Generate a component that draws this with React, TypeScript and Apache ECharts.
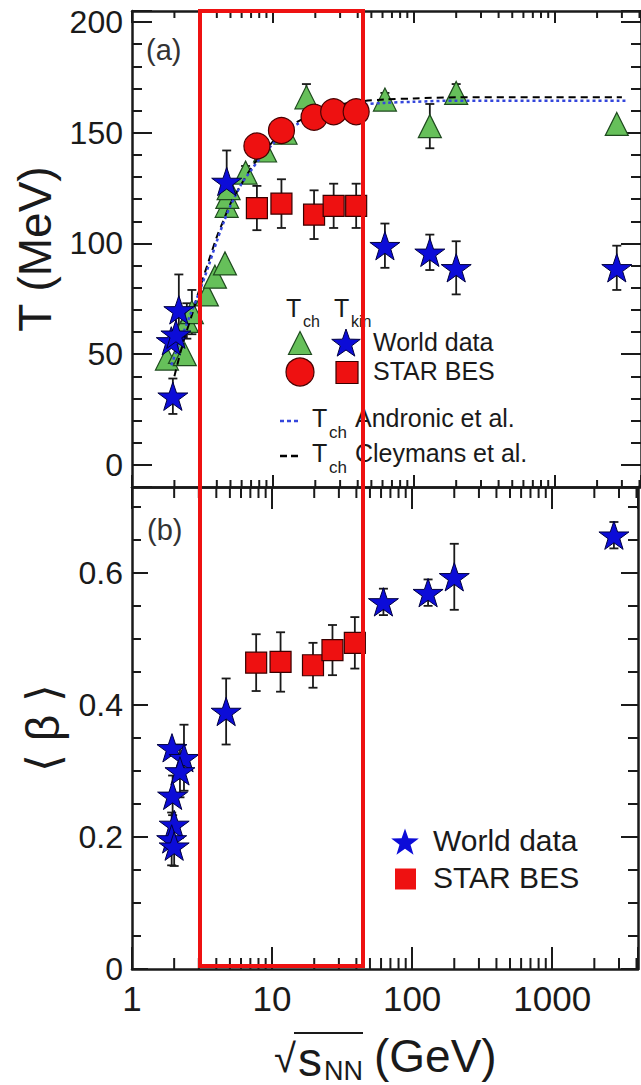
import React, { useEffect, useRef } from 'react';
import * as echarts from 'echarts';

// ---------- axis ranges & tick labels ----------
const X_MIN = 1;
const X_MAX = 4100;
const X_LABELS = [1, 10, 100, 1000];
const X_MINOR = [2, 3, 4, 5, 6, 7, 8, 9, 20, 30, 40, 50, 60, 70, 80, 90, 200, 300, 400, 500, 600, 700, 800, 900, 2000, 3000, 4000];
const A_MIN = -10;
const A_MAX = 205;
const A_LABELS = [0, 50, 100, 150, 200];
const B_MIN = 0;
const B_MAX = 0.73;
const B_LABELS = [0, 0.2, 0.4, 0.6];

// ---------- panel (a): [sqrt(sNN) GeV, T MeV, error] ----------
const tchWorld = [
  [1.77, 48, 0], [2.19, 51, 5], [2.37, 50, 0], [2.45, 65, 8], [2.66, 69, 10],
  [3.4, 77, 0], [3.88, 85, 0], [4.57, 91, 0], [4.7, 117, 4], [4.75, 121, 3],
  [4.85, 125, 3], [6.4, 132, 3], [8.8, 142, 3], [12.3, 150, 3], [17.3, 166, 6],
  [62.4, 165, 3], [130, 153, 10], [200, 168, 4], [2760, 154, 0],
];
const tchStar = [[7.7, 144, 0], [11.5, 151, 0], [19.6, 157, 0], [27, 159.5, 0], [39, 159.5, 0]];
const tkinWorld = [
  [1.95, 31, 8], [1.9, 56, 0], [2.05, 59, 12], [2.15, 70, 16], [4.7, 128, 14],
  [62.4, 99, 10], [130, 96, 8], [200, 89, 12], [2760, 89, 10],
];
const tkinStar = [[7.7, 116, 10], [11.5, 118, 11], [19.6, 113, 11], [27, 117, 10], [39, 117, 10]];

const andronicX = [1.9, 2.2, 2.6, 3.0, 3.5, 4.0, 4.5, 5.0, 6.0, 7.0, 8.0, 10, 12, 15, 20, 27, 39, 62, 100, 200, 1000, 3300];
const andronicT = [45, 56, 68, 78, 90, 101, 110, 117, 127, 133, 138, 145, 150, 154, 158, 161, 162.5, 163.5, 164, 164.5, 164.5, 164.5];
const cleymansX = [2.0, 2.3, 2.7, 3.0, 3.5, 4.0, 4.5, 5.0, 6.0, 7.0, 8.0, 10, 12, 15, 20, 27, 39, 62, 100, 200, 500, 1000, 3000];
const cleymansT = [40, 55, 69, 79, 92, 103, 111, 118, 127, 134, 139, 146, 151, 155, 159, 162, 164, 165, 165.5, 166, 166, 166, 166];

// ---------- panel (b): [sqrt(sNN) GeV, <beta>, error] ----------
const betaWorld = [
  [1.93, 0.335, 0], [2.35, 0.32, 0.05], [2.2, 0.30, 0.04], [1.95, 0.263, 0.03],
  [2.0, 0.219, 0], [1.92, 0.197, 0.04], [2.0, 0.186, 0.03], [4.7, 0.39, 0.05],
  [62.4, 0.556, 0.02], [130, 0.57, 0.02], [200, 0.594, 0.05], [2760, 0.657, 0.02],
];
const betaStar = [[7.7, 0.464, 0.043], [11.5, 0.465, 0.045], [19.6, 0.46, 0.034], [27, 0.483, 0.038], [39, 0.494, 0.039]];

// ---------- styling ----------
const FONT = '"Liberation Sans", Arial, Helvetica, sans-serif';
const INK = '#1a1a1a';
const GREEN = '#66c05a';
const RED = '#ee1111';
const BLUE = '#0c0cd8';
const STAR = 'path://M50,0 L61.8,35.1 L98.1,35.1 L68.8,56.7 L79.4,90.9 L50,69.7 L20.6,90.9 L31.2,56.7 L1.9,35.1 L38.2,35.1 Z';

function near(list: number[], v: number) {
  return list.some((t) => Math.abs(t - v) < 1e-6);
}

function errSeries(data: number[][], xi: number, yi: number) {
  return {
    type: 'custom',
    xAxisIndex: xi,
    yAxisIndex: yi,
    z: 2,
    silent: true,
    data: data.filter((d) => d[2] > 0),
    encode: { x: 0, y: 1 },
    renderItem: (params: any, api: any) => {
      const x = api.value(0);
      const y = api.value(1);
      const e = api.value(2);
      const top = api.coord([x, y + e]);
      const bot = api.coord([x, y - e]);
      const cap = 4.5;
      const st = { stroke: INK, lineWidth: 1.8 };
      return {
        type: 'group',
        children: [
          { type: 'line', shape: { x1: top[0], y1: top[1], x2: bot[0], y2: bot[1] }, style: st },
          { type: 'line', shape: { x1: top[0] - cap, y1: top[1], x2: top[0] + cap, y2: top[1] }, style: st },
          { type: 'line', shape: { x1: bot[0] - cap, y1: bot[1], x2: bot[0] + cap, y2: bot[1] }, style: st },
        ],
      };
    },
  };
}

function tickSeries(xi: number, yi: number, yv: number, len: number, up: boolean) {
  return {
    type: 'scatter',
    xAxisIndex: xi,
    yAxisIndex: yi,
    silent: true,
    clip: false,
    z: 6,
    symbol: 'rect',
    symbolSize: [2, len],
    symbolOffset: [0, up ? -len / 2 : len / 2],
    itemStyle: { color: INK, opacity: 1 },
    data: X_MINOR.map((v) => [v, yv]),
  };
}

function xAxis(grid: number, pos: string, major: number, labels: boolean) {
  return {
    type: 'log',
    gridIndex: grid,
    position: pos,
    min: X_MIN,
    max: X_MAX,
    logBase: 10,
    axisLine: { show: true, onZero: false, lineStyle: { color: INK, width: 2.5 } },
    axisTick: { show: true, inside: true, length: major, lineStyle: { color: INK, width: 2 } },
    minorTick: { show: false },
    splitLine: { show: false },
    minorSplitLine: { show: false },
    axisLabel: labels
      ? {
          show: true,
          fontSize: 35,
          fontFamily: FONT,
          color: INK,
          margin: 12,
          formatter: (v: number) => (near(X_LABELS, v) ? String(Math.round(v)) : ''),
        }
      : { show: false },
  };
}

function yAxis(grid: number, pos: string, min: number, max: number, extra: any, labels: any, major: number, minor: number, split: number, name?: string, nameGap?: number) {
  return {
    type: 'value',
    gridIndex: grid,
    position: pos,
    min,
    max,
    ...extra,
    name: name || '',
    nameLocation: 'middle',
    nameRotate: 90,
    nameGap: nameGap || 0,
    nameTextStyle: { fontSize: 46, fontFamily: FONT, color: INK },
    axisLine: { show: true, onZero: false, lineStyle: { color: INK, width: 2.5 } },
    axisTick: { show: true, inside: true, length: major, lineStyle: { color: INK, width: 2 } },
    minorTick: { show: true, splitNumber: split, length: minor, lineStyle: { color: INK, width: 2 } },
    splitLine: { show: false },
    minorSplitLine: { show: false },
    axisLabel: labels
      ? { show: true, fontSize: 32, fontFamily: FONT, color: INK, margin: 9, formatter: labels }
      : { show: false },
  };
}

function starPoints(cx: number, cy: number, R: number) {
  const pts: number[][] = [];
  for (let i = 0; i < 10; i++) {
    const r = i % 2 === 0 ? R : R * 0.4;
    const a = -Math.PI / 2 + (i * Math.PI) / 5;
    pts.push([cx + r * Math.cos(a), cy + r * Math.sin(a)]);
  }
  return pts;
}

function txt(x: number, y: number, text: string, size: number, extra: any = {}) {
  return {
    type: 'text',
    x,
    y,
    z: 50,
    style: { text, fontSize: size, fontFamily: FONT, fill: INK, align: 'left', verticalAlign: 'middle', ...extra },
  };
}

export default function App() {
  const ref = useRef<HTMLDivElement>(null);

  useEffect(() => {
    if (!ref.current) return;
    const chart = echarts.init(ref.current, null, { renderer: 'svg' });

    const aLabel = (v: number) => (near(A_LABELS, v) ? String(v) : '');
    const bLabel = (v: number) => (near(B_LABELS, v) ? String(Math.round(v * 10) / 10) : '');

    const option: any = {
      animation: false,
      backgroundColor: '#ffffff',
      grid: [
        { left: 132, top: 11, width: 510, height: 476 },
        { left: 132, top: 487, width: 510, height: 482 },
      ],
      xAxis: [
        xAxis(0, 'bottom', 12, false),
        xAxis(0, 'top', 12, false),
        xAxis(1, 'bottom', 22, true),
        xAxis(1, 'top', 22, false),
      ],
      yAxis: [
        yAxis(0, 'left', A_MIN, A_MAX, {}, aLabel, 20, 10, 5, 'T (MeV)', 74),
        yAxis(0, 'right', A_MIN, A_MAX, {}, null, 20, 10, 5),
        yAxis(1, 'left', B_MIN, B_MAX, { interval: 0.2 }, bLabel, 16, 9, 4, '⟨ β ⟩', 66),
        yAxis(1, 'right', B_MIN, B_MAX, { interval: 0.2 }, null, 17, 10, 4),
      ],
      series: [
        errSeries(tchWorld, 0, 0),
        {
          name: 'Tch World data',
          type: 'scatter', xAxisIndex: 0, yAxisIndex: 0, z: 3,
          symbol: 'triangle', symbolSize: 23,
          itemStyle: { color: GREEN, borderColor: '#1e4a1e', borderWidth: 1.2, opacity: 1 },
          data: tchWorld.map((d) => [d[0], d[1]]),
        },
        {
          name: 'Tch Cleymans et al.',
          type: 'line', xAxisIndex: 0, yAxisIndex: 0, z: 4, symbol: 'none', smooth: 0.3,
          lineStyle: { color: '#000000', width: 2, type: [7, 5] },
          data: cleymansX.map((x, i) => [x, cleymansT[i]]),
        },
        {
          name: 'Tch Andronic et al.',
          type: 'line', xAxisIndex: 0, yAxisIndex: 0, z: 4, symbol: 'none', smooth: 0.3,
          lineStyle: { color: '#3446dc', width: 2.5, type: [3, 3] },
          data: andronicX.map((x, i) => [x, andronicT[i]]),
        },
        errSeries(tkinWorld, 0, 0),
        {
          name: 'Tkin World data',
          type: 'scatter', xAxisIndex: 0, yAxisIndex: 0, z: 5,
          symbol: STAR, symbolKeepAspect: true, symbolSize: 30,
          itemStyle: { color: BLUE, borderColor: '#000040', borderWidth: 1, opacity: 1 },
          data: tkinWorld.map((d) => [d[0], d[1]]),
        },
        errSeries(tkinStar, 0, 0),
        {
          name: 'Tkin STAR BES',
          type: 'scatter', xAxisIndex: 0, yAxisIndex: 0, z: 5,
          symbol: 'rect', symbolSize: 21,
          itemStyle: { color: RED, borderColor: '#3a0000', borderWidth: 1.2, opacity: 1 },
          data: tkinStar.map((d) => [d[0], d[1]]),
        },
        {
          name: 'Tch STAR BES',
          type: 'scatter', xAxisIndex: 0, yAxisIndex: 0, z: 5,
          symbol: 'circle', symbolSize: 26,
          itemStyle: { color: RED, borderColor: '#4a0000', borderWidth: 1.2, opacity: 1 },
          data: tchStar.map((d) => [d[0], d[1]]),
        },
        errSeries(betaWorld, 2, 2),
        {
          name: 'World data',
          type: 'scatter', xAxisIndex: 2, yAxisIndex: 2, z: 5,
          symbol: STAR, symbolKeepAspect: true, symbolSize: 30,
          itemStyle: { color: BLUE, borderColor: '#000040', borderWidth: 1, opacity: 1 },
          data: betaWorld.map((d) => [d[0], d[1]]),
        },
        errSeries(betaStar, 2, 2),
        {
          name: 'STAR BES',
          type: 'scatter', xAxisIndex: 2, yAxisIndex: 2, z: 5,
          symbol: 'rect', symbolSize: 21,
          itemStyle: { color: RED, borderColor: '#3a0000', borderWidth: 1.2, opacity: 1 },
          data: betaStar.map((d) => [d[0], d[1]]),
        },
        tickSeries(0, 0, A_MIN, 7, true),
        tickSeries(1, 0, A_MAX, 7, false),
        tickSeries(2, 2, B_MIN, 11, true),
        tickSeries(3, 2, B_MAX, 11, false),
      ],
      graphic: [
        // panel labels
        txt(146, 50, '(a)', 29, { fill: '#333' }),
        txt(147, 530, '(b)', 29, { fill: '#333' }),
        // panel (a) legend header
        txt(286, 308, 'T', 25),
        txt(303, 321, 'ch', 16),
        txt(334, 308, 'T', 25),
        txt(351, 321, 'kin', 16),
        // row 1
        { type: 'polygon', z: 50, shape: { points: [[300, 331.5], [311.5, 354.5], [288.5, 354.5]] }, style: { fill: GREEN, stroke: '#1e4a1e', lineWidth: 1.2 } },
        { type: 'polygon', z: 50, shape: { points: starPoints(346, 344, 15) }, style: { fill: BLUE, stroke: '#000040', lineWidth: 1 } },
        txt(373, 342, 'World data', 25),
        // row 2
        { type: 'circle', z: 50, shape: { cx: 300, cy: 372, r: 14 }, style: { fill: RED, stroke: '#4a0000', lineWidth: 1.2 } },
        { type: 'rect', z: 50, shape: { x: 336, y: 361.5, width: 22, height: 22 }, style: { fill: RED, stroke: '#3a0000', lineWidth: 1.2 } },
        txt(373, 371, 'STAR BES', 25),
        // row 3 / 4
        { type: 'line', z: 50, shape: { x1: 280, y1: 421, x2: 301, y2: 421 }, style: { stroke: '#3446dc', lineWidth: 2.5, lineDash: [4, 3] } },
        txt(312, 418, 'T', 25),
        txt(329, 432, 'ch', 17),
        txt(355, 418, 'Andronic et al.', 25),
        { type: 'line', z: 50, shape: { x1: 280, y1: 456, x2: 301, y2: 456 }, style: { stroke: '#000', lineWidth: 2.5, lineDash: [7, 4] } },
        txt(312, 453, 'T', 25),
        txt(329, 467, 'ch', 17),
        txt(355, 453, 'Cleymans et al.', 25),
        // panel (b) legend
        { type: 'polygon', z: 50, shape: { points: starPoints(405, 843, 14.5) }, style: { fill: BLUE } },
        txt(433, 840, 'World data', 30),
        { type: 'rect', z: 50, shape: { x: 395, y: 868.5, width: 21, height: 21 }, style: { fill: RED } },
        txt(433, 877, 'STAR BES', 30),
        // x-axis title: sqrt(s_NN) (GeV)
        txt(274, 1058, '√', 40),
        { type: 'line', z: 50, shape: { x1: 294, y1: 1033, x2: 363, y2: 1033 }, style: { stroke: INK, lineWidth: 2 } },
        txt(298, 1059, 's', 48),
        txt(324, 1071, 'NN', 27),
        txt(374, 1056, '(GeV)', 46),
        // red highlight box
        { type: 'rect', z: 100, shape: { x: 200, y: 11, width: 163, height: 955 }, style: { fill: 'none', stroke: '#ee1111', lineWidth: 4 } },
      ],
    };

    chart.setOption(option);
    return () => chart.dispose();
  }, []);

  return <div ref={ref} style={{ position: 'absolute', left: 0, top: 0, width: 641, height: 1085 }} />;
}
